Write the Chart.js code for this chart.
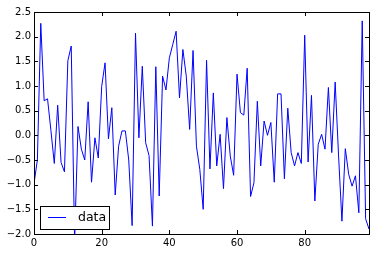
<!DOCTYPE html>
<html>
<head>
<meta charset="utf-8">
<script src="https://cdn.jsdelivr.net/npm/chart.js@4"></script>
<style>
  html, body { margin: 0; padding: 0; background: #fff; }
  #wrap { position: relative; width: 375px; height: 256px; }
</style>
</head>
<body>
<div id="wrap"><canvas id="chart"></canvas></div>
<script>
const seriesName = 'data';
const values = [
  -0.98, -0.5, 2.27, 0.7, 0.74, 0.1, -0.57, 0.61, -0.55, -0.74,
  1.51, 1.81, -2.15, 0.18, -0.28, -0.5, 0.68, -0.95, -0.05, -0.46,
  0.99, 1.47, -0.07, 0.56, -1.21, -0.22, 0.09, 0.09, -0.5, -1.83,
  2.07, -0.05, 1.4, -0.15, -0.41, -1.84, 1.39, -1.23, 1.2, 0.92,
  1.57, 1.84, 2.11, 0.76, 1.74, 1.2, 0.12, 1.72, -0.22, -0.69,
  -1.5, 1.52, -0.68, 0.86, -0.62, 0.02, -1.08, 0.36, -0.42, -0.81,
  1.24, 0.46, 0.41, 1.36, -1.24, -0.96, 0.69, -0.62, 0.29, 0.0,
  0.26, -0.95, 0.84, 0.84, -0.88, 0.55, -0.35, -0.62, -0.35, -0.57,
  2.03, -0.54, 0.81, -1.33, -0.18, 0.02, -0.28, 0.97, -0.35, 1.08,
  -0.4, -1.74, -0.27, -0.79, -1.03, -0.82, -1.57, 2.32, -1.69, -1.9
];
const xTicks = [0, 20, 40, 60, 80];
const yTicks = [-2.0, -1.5, -1.0, -0.5, 0.0, 0.5, 1.0, 1.5, 2.0, 2.5];

const points = values.map((v, i) => ({ x: i, y: v }));

// matplotlib-style frame: box round the axes, inward ticks on all sides, legend inside
const framePlugin = {
  id: 'frame',
  afterDraw(chart) {
    const { ctx, chartArea: a, scales } = chart;
    ctx.save();
    ctx.strokeStyle = '#000';
    ctx.lineWidth = 1;
    ctx.strokeRect(Math.round(a.left) + 0.5, Math.round(a.top) + 0.5,
      Math.round(a.right - a.left), Math.round(a.bottom - a.top));

    const len = 4;
    ctx.beginPath();
    xTicks.forEach(v => {
      const px = Math.round(scales.x.getPixelForValue(v)) + 0.5;
      ctx.moveTo(px, a.bottom); ctx.lineTo(px, a.bottom - len);
      ctx.moveTo(px, a.top); ctx.lineTo(px, a.top + len);
    });
    yTicks.forEach(v => {
      const py = Math.round(scales.y.getPixelForValue(v)) + 0.5;
      ctx.moveTo(a.left, py); ctx.lineTo(a.left + len, py);
      ctx.moveTo(a.right, py); ctx.lineTo(a.right - len, py);
    });
    ctx.stroke();

    // legend, lower left
    const ds = chart.data.datasets[0];
    const bx = a.left + 6, by = a.bottom - 28, bw = 69, bh = 23;
    ctx.fillStyle = '#fff';
    ctx.fillRect(bx, by, bw, bh);
    ctx.strokeStyle = '#000';
    ctx.strokeRect(Math.round(bx) + 0.5, Math.round(by) + 0.5, bw, bh);
    const my = by + bh / 2;
    ctx.strokeStyle = ds.borderColor;
    ctx.lineWidth = ds.borderWidth;
    ctx.beginPath();
    ctx.moveTo(bx + 8, my); ctx.lineTo(bx + 26, my);
    ctx.stroke();
    ctx.fillStyle = '#000';
    ctx.font = '12.5px "DejaVu Sans"';
    ctx.textBaseline = 'middle';
    ctx.textAlign = 'left';
    ctx.fillText(ds.label, bx + 38, my + 0.5);
    ctx.restore();
  }
};

new Chart(document.getElementById('chart'), {
  type: 'line',
  data: {
    datasets: [{
      label: seriesName,
      data: points,
      borderColor: '#0000ff',
      borderWidth: 1,
      pointRadius: 0,
      tension: 0,
      fill: false
    }]
  },
  options: {
    responsive: true,
    maintainAspectRatio: false,
    animation: false,
    layout: { padding: { top: 12, right: 6, left: 0, bottom: 0 } },
    plugins: { legend: { display: false }, tooltip: { enabled: false } },
    scales: {
      x: {
        type: 'linear',
        min: 0,
        max: 99,
        afterBuildTicks: s => { s.ticks = xTicks.map(v => ({ value: v })); },
        afterFit: s => { s.height = 22; },
        grid: { display: false, drawTicks: false },
        border: { display: false },
        ticks: {
          padding: 3,
          color: '#000',
          font: { family: 'DejaVu Sans', size: 10 },
          maxRotation: 0,
          callback: v => String(v)
        }
      },
      y: {
        min: -2.0,
        max: 2.5,
        afterBuildTicks: s => { s.ticks = yTicks.map(v => ({ value: v })); },
        afterFit: s => { s.width = 34; },
        grid: { display: false, drawTicks: false },
        border: { display: false },
        ticks: {
          padding: 3,
          color: '#000',
          font: { family: 'DejaVu Sans', size: 10 },
          callback: v => Number(v).toFixed(1).replace('-', '\u2212')
        }
      }
    }
  },
  plugins: [framePlugin]
});
</script>
</body>
</html>
